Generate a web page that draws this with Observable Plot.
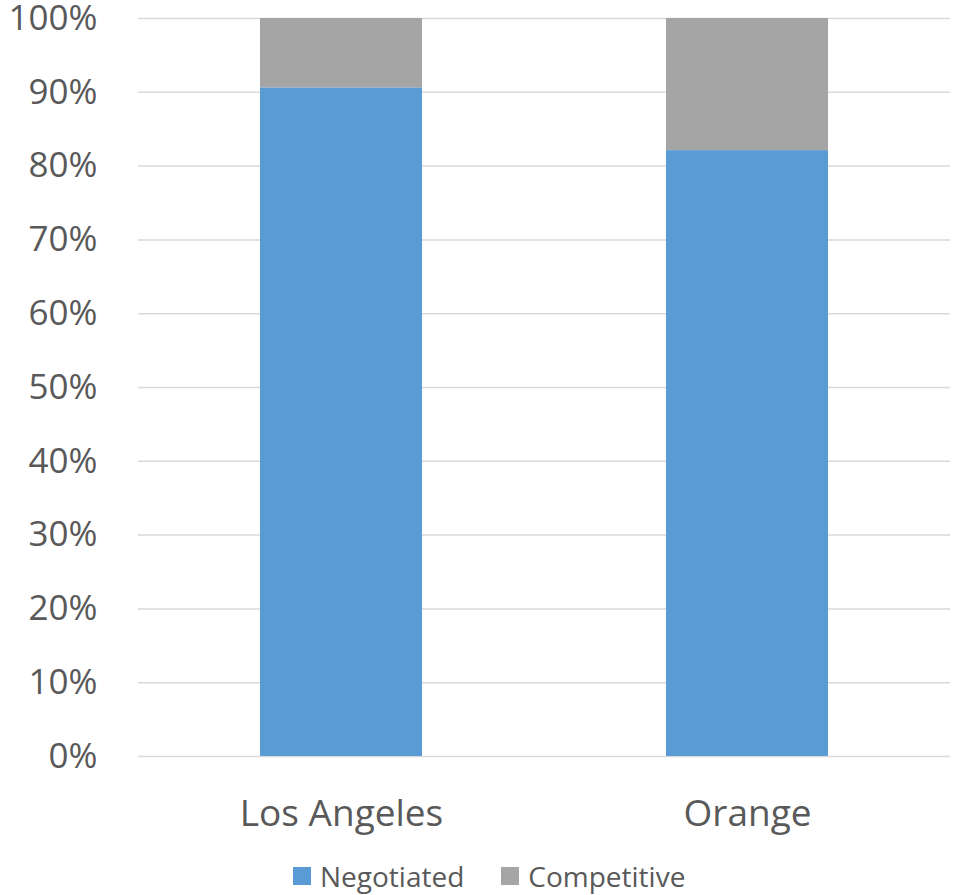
<!DOCTYPE html>
<html>
<head>
<meta charset="utf-8">
<script src="https://cdn.jsdelivr.net/npm/d3@7"></script>
<script src="https://cdn.jsdelivr.net/npm/@observablehq/plot@0.6"></script>
<style>
  body { margin: 0; background: #fff; font-family: "Open Sans", sans-serif; }
  #chart svg { display: block; }
  .legend { display: flex; align-items: center; margin-left: 293px; height: 36px; color: #595959; font-size: 28px; }
  .legend .item { display: flex; align-items: center; }
  .legend .swatch { width: 18px; height: 18px; margin-right: 9px; }
  .legend .item + .item { margin-left: 37px; }
</style>
</head>
<body>
<div id="chart"></div>
<div class="legend" id="legend"></div>
<script>
// Share of contracts by procurement type, per county
const regions = ["Los Angeles", "Orange"];
const series = ["Negotiated", "Competitive"];
const negotiated = [90.6, 82.1];
const competitive = [9.4, 17.9];
const yTicks = [0, 10, 20, 30, 40, 50, 60, 70, 80, 90, 100];
const colors = ["#5B9BD5", "#A5A5A5"];

const rows = regions.flatMap((r, i) => [
  {region: r, type: series[0], value: negotiated[i]},
  {region: r, type: series[1], value: competitive[i]}
]);

const chart = Plot.plot({
  width: 953,
  height: 858,
  marginTop: 18,
  marginBottom: 102,
  marginLeft: 138,
  marginRight: 3,
  style: {fontFamily: "Open Sans, sans-serif", color: "#595959", background: "#fff", overflow: "visible"},
  x: {domain: regions, paddingInner: 0.6, paddingOuter: 0.3, label: null},
  y: {domain: [0, 100], label: null},
  color: {domain: series, range: colors},
  marks: [
    Plot.ruleY(yTicks, {stroke: "#d9d9d9", strokeWidth: 1.5}),
    Plot.barY(rows, Plot.stackY({x: "region", y: "value", fill: "type", order: series})),
    Plot.axisY({ticks: yTicks, tickFormat: d => d + "%", tickSize: 0, tickPadding: 41, fontSize: 35, fill: "#595959", label: null}),
    Plot.axisX({tickSize: 0, tickPadding: 43, fontSize: 37, fill: "#595959", label: null})
  ]
});
document.getElementById("chart").appendChild(chart);

const legend = document.getElementById("legend");
series.forEach((s, i) => {
  const item = document.createElement("div");
  item.className = "item";
  const sw = document.createElement("span");
  sw.className = "swatch";
  sw.style.background = colors[i];
  const label = document.createElement("span");
  label.textContent = s;
  item.append(sw, label);
  legend.appendChild(item);
});
</script>
</body>
</html>
